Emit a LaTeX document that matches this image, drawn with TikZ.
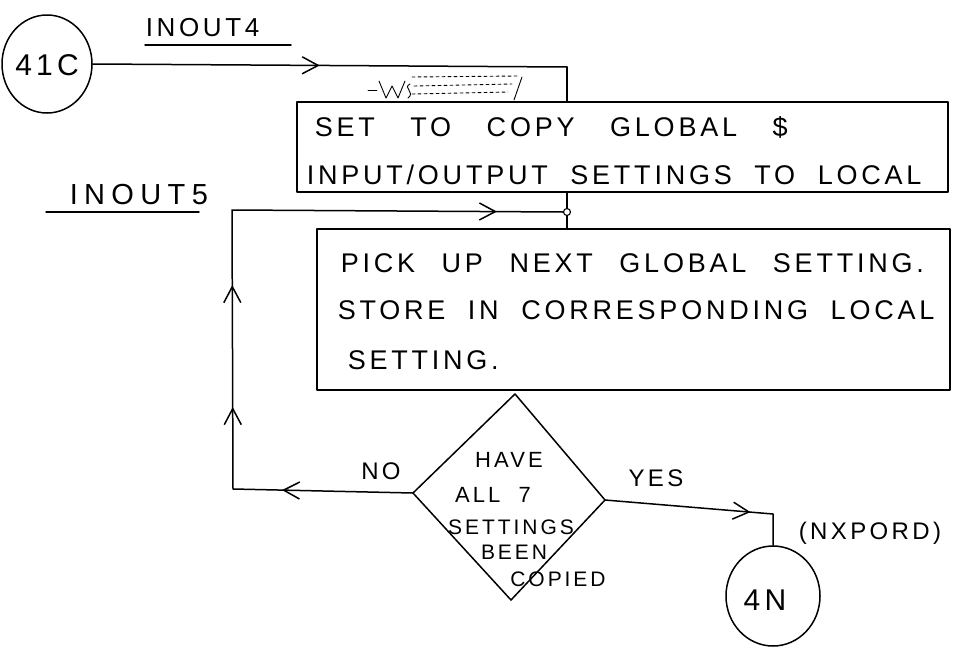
\documentclass[tikz,border=0pt]{standalone}
\usepackage{fontspec}
\newfontfamily\handfont{Liberation Sans}[LetterSpace=14,WordSpace=2]
\usetikzlibrary{arrows.meta,decorations.markings,shapes.geometric}
\tikzset{
  hand/.style={font=\handfont\fontsize{#1}{#1}\selectfont, inner sep=0pt},
  hand/.default=27,
  procbox/.style={draw, rectangle, inner sep=0pt},
  connector/.style={draw, ellipse, inner sep=0pt},
  chevtip/.tip={Straight Barb[length=16pt,width=17pt,line width=1.5pt]},
  chev/.style={postaction={decorate,decoration={markings,
      mark=at position #1 with {\arrow{chevtip}}}}},
}
\begin{document}
\begin{tikzpicture}[x=1pt,y=-1pt,line width=1.5pt,line join=round,line cap=round]
\useasboundingbox (0,0) rectangle (955,664);

% ---- entry connector 41C
\node[connector, minimum width=90pt, minimum height=98pt] (c41) at (47,64) {};
\node[hand=30] (t41) at (47,65) {41C};

\node[hand=26, anchor=west] (lin4) at (145,28) {INOUT4};
\coordinate (u4a) at (145,45); \coordinate (u4b) at (291,45);
\draw (u4a) -- (u4b);

% ---- box 1
\node[procbox, minimum width=651pt, minimum height=90pt] (box1) at (622.5,147) {};
\node[hand, anchor=west] (b1l1) at (314,127) {SET\hspace{13pt} TO\hspace{13pt} COPY\hspace{13pt} GLOBAL\hspace{13pt} \$};
\node[hand, anchor=west] (b1l2) at (306,175) {INPUT/OUTPUT SETTINGS TO LOCAL};

% crossed-out scribble above box 1
\begin{scope}[line width=0.9pt]
  \draw (368,90) -- (377,90);
  \draw (379,81) -- (386,98) -- (392,86) -- (398,98) -- (405,81);
  \draw (410,84) .. controls (402,88) and (416,92) .. (408,98);
  \draw[dashed] (412,77) -- (518,76);
  \draw[dashed] (414,86) -- (512,84);
  \draw[dashed] (412,94) -- (508,92);
  \draw (522,77) -- (514,100);
\end{scope}

% ---- INOUT5 label
\node[font=\handfont\fontsize{29}{29}\selectfont\addfontfeatures{LetterSpace=22}, inner sep=0pt, anchor=west] (lin5) at (69,195) {INOUT5};
\coordinate (u5a) at (46,212); \coordinate (u5b) at (199,212);
\draw (u5a) -- (u5b);

% ---- box 2
\node[procbox, minimum width=633pt, minimum height=161pt] (box2) at (633.5,309.5) {};
\node[hand, anchor=west] (b2l1) at (340,263) {PICK\hspace{4pt} UP\hspace{4pt} NEXT\hspace{4pt} GLOBAL\hspace{4pt} SETTING.};
\node[hand, anchor=west] (b2l2) at (337,310) {STORE IN CORRESPONDING LOCAL};
\node[hand, anchor=west] (b2l3) at (347,360) {SETTING.};

% ---- decision diamond
\coordinate (dT) at (515,394);
\coordinate (dR) at (605,500);
\coordinate (dB) at (511,600);
\coordinate (dL) at (413,493);
\draw (dT) -- (dR) -- (dB) -- (dL) -- cycle;
\node[hand=22] (q1) at (509,460) {HAVE};
\node[hand=22] (q2) at (493,495) {ALL 7};
\node[hand=21] (q3) at (511,527) {SETTINGS};
\node[hand=21] (q4) at (514,552) {BEEN};
\node[hand=21] (q5) at (558,579) {COPIED};

\node[hand=24] (lno) at (381,471) {NO};
\node[hand=24] (lyes) at (656,478) {YES};

% ---- exit connector 4N
\node[connector, minimum width=94pt, minimum height=100pt] (c4n) at (773,596) {};
\node[hand=30] (t4n) at (765,600) {4N};
\node[hand=24] (lnx) at (870,533) {(NXPORD)};

% ---- connectors
\coordinate (t1) at (567,67);
\draw[chev=227pt] (c41.east) -- (t1);
\draw (t1) -- (t1 |- box1.north);

\node[draw, circle, fill=white, inner sep=0pt, minimum size=7pt, line width=1.1pt] (jn) at (567,212) {};
\draw (box1.south -| jn) -- (jn.north);
\draw (jn.south) -- (jn.south |- box2.north);

\coordinate (lc) at (233,489);
\coordinate (tl) at (232,210);
\draw[postaction={decorate,decoration={markings,
    mark=at position 131pt with {\arrow{chevtip}},
    mark=at position 262pt with {\arrow{chevtip}},
    mark=at position 384pt with {\arrow{chevtip}},
    mark=at position 724pt with {\arrow{chevtip}}}}]
  (dL) -- (lc) -- (tl) -- (jn.west);

\coordinate (ye) at (773,514);
\draw[chev=146pt] (dR) -- (ye) -- (c4n.north);

\end{tikzpicture}
\end{document}
